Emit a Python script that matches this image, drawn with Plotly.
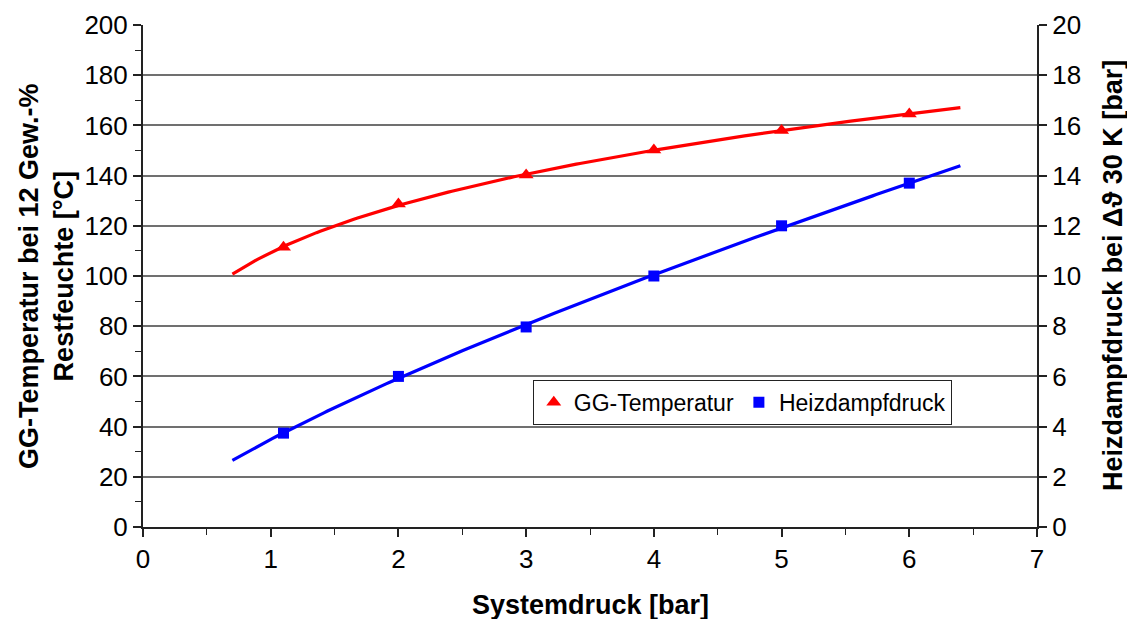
import numpy as np
import plotly.graph_objects as go

# Data
systemdruck = [1.1, 2, 3, 4, 5, 6]
gg_temperatur = [111.5, 128.7, 140.2, 150.2, 158.0, 164.5]
heizdampfdruck = [3.74, 6.0, 7.97, 10.0, 12.0, 13.7]
trend_range = [0.7, 6.4]

# Power-law trendlines (as in the spreadsheet original), fitted to the data
def power_fit(x, y):
    b, ln_a = np.polyfit(np.log(x), np.log(y), 1)
    return np.exp(ln_a), b

xs = np.linspace(trend_range[0], trend_range[1], 200)
a1, b1 = power_fit(systemdruck, gg_temperatur)
a2, b2 = power_fit(systemdruck, heizdampfdruck)

RED = "#ff0000"
BLUE = "#0000ff"
AX = "#222222"
FONT = "Liberation Sans, Arial, sans-serif"

fig = go.Figure()
fig.add_trace(go.Scatter(x=xs, y=a1 * xs ** b1, mode="lines",
                         line=dict(color=RED, width=3.2), showlegend=False, hoverinfo="skip"))
fig.add_trace(go.Scatter(x=xs, y=a2 * xs ** b2, mode="lines", yaxis="y2",
                         line=dict(color=BLUE, width=3.2), showlegend=False, hoverinfo="skip"))
fig.add_trace(go.Scatter(x=systemdruck, y=gg_temperatur, mode="markers", name="GG-Temperatur",
                         marker=dict(symbol="triangle-up", color=RED, size=13)))
fig.add_trace(go.Scatter(x=systemdruck, y=heizdampfdruck, mode="markers", name="Heizdampfdruck",
                         yaxis="y2", marker=dict(symbol="square", color=BLUE, size=11)))

tickfont = dict(family=FONT, size=26, color="black")
titlefont = dict(family=FONT, size=27, color="black")

fig.update_layout(
    width=1127, height=619,
    margin=dict(l=143, r=90, t=25, b=92),
    paper_bgcolor="white", plot_bgcolor="white",
    font=dict(family=FONT, color="black"),
    xaxis=dict(range=[0, 7], dtick=1, tick0=0, showgrid=False, zeroline=False, automargin=False,
               showline=True, linecolor=AX, linewidth=2,
               ticks="outside", ticklen=8, tickwidth=1.5, tickcolor=AX,
               minor=dict(dtick=0.5, ticks="outside", ticklen=6, tickcolor=AX, tickwidth=1),
               tickfont=tickfont),
    yaxis=dict(range=[0, 200], dtick=20, showgrid=True, gridcolor="#707070", gridwidth=1.5,
               zeroline=False, automargin=False, showline=True, linecolor=AX, linewidth=2,
               ticks="outside", ticklen=8, tickwidth=1.5, tickcolor=AX,
               minor=dict(dtick=10, ticks="outside", ticklen=6, tickcolor=AX, tickwidth=1,
                          showgrid=False),
               tickfont=tickfont),
    yaxis2=dict(range=[0, 20], dtick=2, overlaying="y", side="right", showgrid=False,
                zeroline=False, automargin=False, showline=True, linecolor=AX, linewidth=2,
                ticks="outside", ticklen=8, tickwidth=1.5, tickcolor=AX,
                tickfont=tickfont),
    legend=dict(orientation="h", x=0.436, y=0.293, xanchor="left", yanchor="top",
                bgcolor="white", bordercolor=AX, borderwidth=1,
                font=dict(family=FONT, size=23, color="black"),
                itemwidth=30, tracegroupgap=0),
    annotations=[
        dict(text="<b>Systemdruck [bar]</b>", xref="paper", yref="paper", x=0.5, y=0,
             xanchor="center", yanchor="middle", yshift=-78, showarrow=False, font=titlefont),
        dict(text="<b>GG-Temperatur bei 12 Gew.-%<br>Restfeuchte [°C]</b>", xref="paper",
             yref="paper", x=0, y=0.5, xanchor="center", yanchor="middle", xshift=-97,
             textangle=-90, showarrow=False, font=titlefont),
        dict(text="<b>Heizdampfdruck bei Δϑ 30 K [bar]</b>", xref="paper", yref="paper",
             x=1, y=0.5, xanchor="center", yanchor="middle", xshift=76,
             textangle=-90, showarrow=False, font=titlefont),
    ],
)

fig.write_html("out.html", config={"displayModeBar": False},
               post_script="document.body.style.margin='0';")
